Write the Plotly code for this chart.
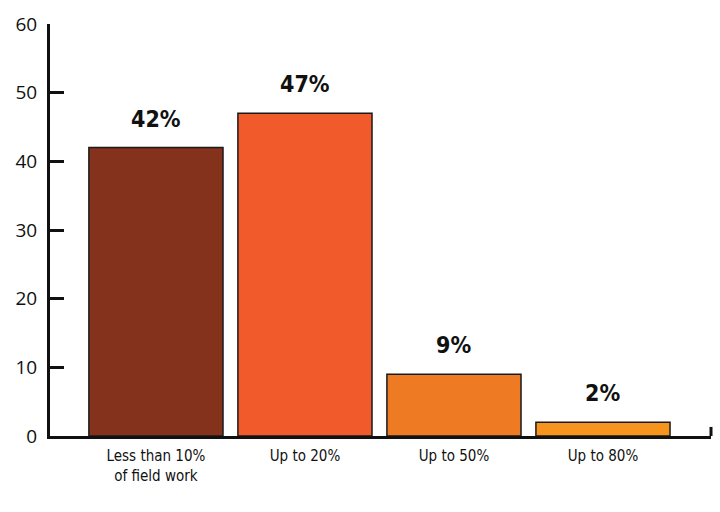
import plotly.graph_objects as go

categories = ["Less than 10%<br>of field work", "Up to 20%", "Up to 50%", "Up to 80%"]
values = [42, 47, 9, 2]
labels = ["42%", "47%", "9%", "2%"]
colors = ["#84321C", "#F15A2A", "#EF7A24", "#F7941D"]
y_ticks = [0, 10, 20, 30, 40, 50, 60]

cond = "DejaVu Sans Condensed, Liberation Sans Narrow, sans-serif"

fig = go.Figure()
fig.add_trace(go.Bar(
    x=list(range(len(categories))),
    y=values,
    marker=dict(color=colors, line=dict(color="#1a1a1a", width=1.5)),
    width=0.9,
    hoverinfo="skip",
))

for i, (v, t) in enumerate(zip(values, labels)):
    fig.add_annotation(x=i, y=v, text="<b>" + t + "</b>", showarrow=False,
                       yanchor="bottom", yshift=14,
                       font=dict(family=cond, size=23, color="#111111"))

fig.add_shape(type="line", xref="paper", yref="paper", x0=1, x1=1, y0=0, y1=0.022,
              line=dict(color="#111111", width=3))

fig.update_layout(
    width=720, height=512,
    margin=dict(l=50, r=9, t=24, b=76),
    paper_bgcolor="white", plot_bgcolor="white",
    showlegend=False,
    xaxis=dict(
        range=[-0.711, 3.725],
        tickmode="array", tickvals=list(range(len(categories))), ticktext=categories,
        showline=True, linecolor="#111111", linewidth=3,
        ticks="", showgrid=False, zeroline=False,
        ticklabelstandoff=4,
        tickfont=dict(family=cond, size=15, color="#111111"),
    ),
    yaxis=dict(
        range=[0, 60], tickvals=y_ticks,
        showline=True, linecolor="#111111", linewidth=3,
        ticks="inside", ticklen=14, tickwidth=3, tickcolor="#111111",
        showgrid=False, zeroline=False,
        ticklabelstandoff=6,
        tickfont=dict(family="Open Sans, sans-serif", size=19, color="#111111"),
    ),
)

fig.write_html("out.html")
